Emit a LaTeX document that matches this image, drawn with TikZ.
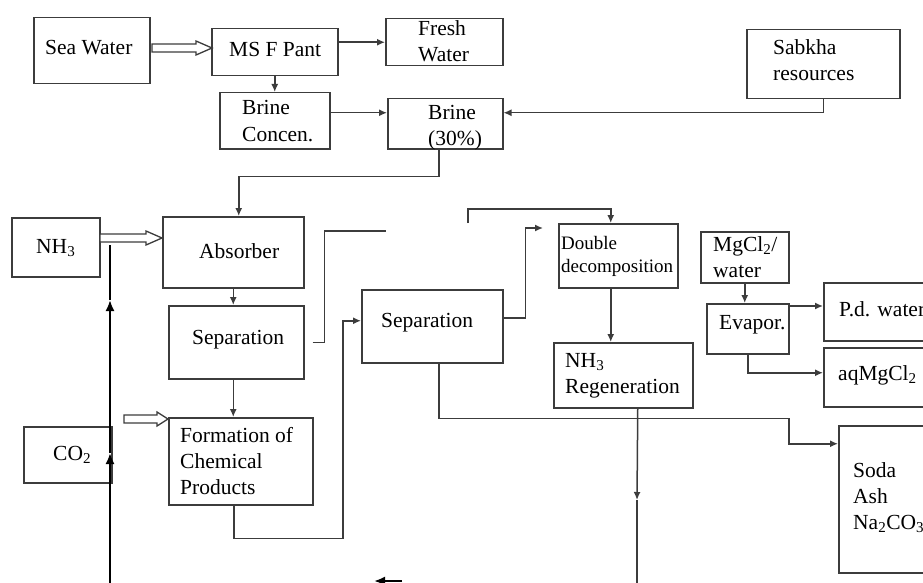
\documentclass[tikz,border=0pt]{standalone}
\usepackage{fontspec}
\setmainfont{Liberation Serif}
\usetikzlibrary{arrows.meta,calc}
\definecolor{ln}{HTML}{3C3C3C}
\tikzset{
  box/.style={draw=ln, line width=1.5pt, rectangle, inner sep=0pt, anchor=north west, fill=none},
  txt/.style={inner sep=0pt, anchor=base west, align=left, font=\fontsize{21.5}{26}\selectfont},
  smalltxt/.style={txt, font=\fontsize{19}{23}\selectfont},
  conn/.style={draw=ln, line width=1.5pt},
  arr/.style={conn, -{Latex[length=8pt,width=7pt]}},
  hollow/.style={draw=ln, line width=1.3pt, fill=white, line join=miter},
  thickline/.style={draw=black, line width=2pt},
  thickarr/.style={thickline, -{Latex[length=11pt,width=9pt]}}
}
\newcommand\bx[5]{\node[box, minimum width=#4pt, minimum height=#5pt] (#1) at (#2,#3) {};}
\begin{document}
\begin{tikzpicture}[x=1pt,y=-1pt]
\useasboundingbox (0,0) rectangle (923,583);
\fill[white] (0,0) rectangle (923,583);
\clip (0,0) rectangle (923,583);
% boxes
\bx{sea}{33}{17}{116}{66}
\bx{msf}{211}{28}{126}{47}
\bx{fresh}{385}{18}{117}{47}
\bx{bc}{219}{92}{110}{56}
\bx{brine}{387}{98}{115}{50}
\bx{sabkha}{746}{29}{153}{69}
\bx{nh3}{11}{217}{88}{59}
\bx{abs}{162}{216}{141}{71}
\bx{sepa}{168}{305}{135}{73}
\bx{sepb}{361}{289}{141}{73}
\bx{dd}{558}{223}{119}{64}
\bx{nhr}{553}{342}{139}{65}
\bx{mg}{700}{231}{88}{51}
\bx{evap}{706}{303}{82}{50}
\bx{pd}{823}{282}{137}{58}
\bx{aq}{823}{347}{137}{59}
\bx{form}{168}{417}{144}{87}
\bx{co2}{23}{426}{88}{56}
\bx{soda}{838}{425}{142}{147}
% texts (multi-line nodes: base = last line)
\node[txt] (tsea) at (45,54.5) {Sea Water};
\node[txt] (tmsf) at (229,57) {MS F Pant};
\node[txt] (tfresh) at (418,62) {Fresh\\Water};
\node[txt] (tbc) at (242,141) {Brine\\Concen.};
\node[txt] (tbrine) at (428,146) {Brine\\(30\%)};
\node[txt] (tsab) at (773,81) {Sabkha\\resources};
\node[txt] (tnh3) at (36,253) {NH\textsubscript{3}};
\node[txt] (tabs) at (199,258) {Absorber};
\node[txt] (tsepa) at (192,344) {Separation};
\node[txt] (tsepb) at (381,327) {Separation};
\node[smalltxt] (tdd) at (561,272) {Double\\decomposition};
\node[txt] (tnhr) at (565,393) {NH\textsubscript{3}\\Regeneration};
\node[txt] (tmg) at (713,277) {MgCl\textsubscript{2}/\\water};
\node[txt] (tevap) at (719,329) {Evapor.};
\node[txt] (tpd) at (839,316) {P.d. water};
\node[txt] (taq) at (838,380) {aqMgCl\textsubscript{2}};
\node[txt] (tform) at (180,494) {Formation of\\Chemical\\Products};
\node[txt] (tco2) at (53,460) {CO\textsubscript{2}};
\node[txt] (tsoda) at (853,529) {Soda\\Ash\\Na\textsubscript{2}CO\textsubscript{3}};
% hollow arrows
\draw[hollow] (152,44) -- (196,44) -- (196,41) -- (212,48) -- (196,55) -- (196,52) -- (152,52) -- cycle;
\draw[hollow] (100,234) -- (146,234) -- (146,231) -- (162,238) -- (146,245) -- (146,242) -- (100,242) -- cycle;
\draw[hollow] (124,415) -- (157,415) -- (157,412) -- (168,419) -- (157,426) -- (157,423) -- (124,423) -- cycle;
% connectors
\draw[arr] (msf.east |- fresh.west) -- (fresh.west);
\draw[arr] (msf.south) -- (msf.south |- bc.north);
\draw[arr] ([yshift=8pt]bc.east) -- ([yshift=8pt]bc.east -| brine.west);
\draw[arr] (sabkha.south) |- ([yshift=11pt]brine.east);
\draw[arr] ([xshift=-6.5pt]brine.south) -- ++(0,27) -| ([xshift=5.5pt]abs.north);
\draw[arr] (abs.south) -- (abs.south |- sepa.north);
\coordinate (e1) at (386,231);
\draw[conn] ([xshift=8pt]sepa.east) -- ++(12,0) |- (e1);
\draw[arr] (abs.south |- sepa.south) -- (abs.south |- form.north);
\draw[arr] ([xshift=-7pt]form.south) -- ++(0,33) -| ([xshift=-18pt,yshift=5.5pt]sepb.west) -- ([yshift=5.5pt]sepb.west);
\coordinate (e2) at (543,228);
\draw[arr] ([yshift=8.5pt]sepb.east) -- ++(22,0) |- (e2);
\coordinate (s3) at (468,223);
\draw[arr] (s3) -- ++(0,-14) -| ([xshift=-7.5pt]dd.north);
\draw[arr] ([xshift=-7.5pt]dd.south) -- ([xshift=-7.5pt]dd.south |- nhr.north);
\coordinate (m4) at (637,500);
\coordinate (e4) at (637,590);
\draw[arr] ([xshift=14.5pt]nhr.south) -- (m4);
\draw[conn] (m4) -- (e4);
\draw[arr] ([xshift=6.5pt]sepb.south) -- ++(0,55) -- ++(350,0) |- ([yshift=55.5pt]soda.west);
\draw[arr] (mg.south) -- (mg.south |- evap.north);
\draw[arr] ([yshift=-3pt]evap.north east) -- ([yshift=-3pt]evap.north east -| pd.west);
\draw[arr] (evap.south) |- ([yshift=4.5pt]aq.west);
% CO2 line
\coordinate (c0) at (110,590);
\coordinate (c1) at (110,453);
\coordinate (c2) at (110,300);
\coordinate (c3) at (110,245);
\draw[thickarr] (c0) -- (c1);
\draw[thickarr] (c1) -- (c2);
\draw[thickline] (c2) -- (c3);
% bottom arrow
\coordinate (b0) at (402,581);
\coordinate (b1) at (374,581);
\draw[thickarr] (b0) -- (b1);
\end{tikzpicture}
\end{document}
